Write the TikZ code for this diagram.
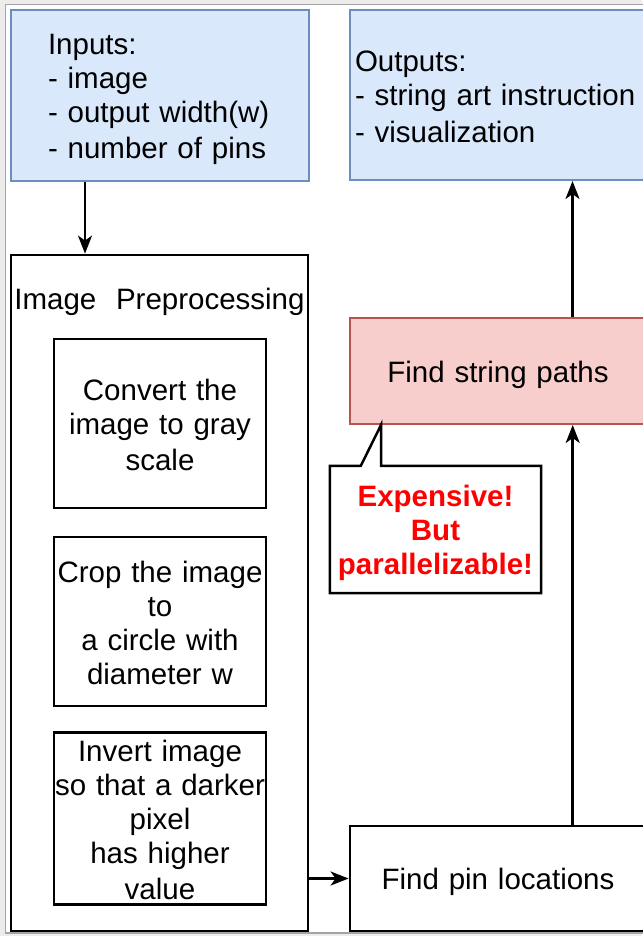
\documentclass[tikz,border=0pt]{standalone}
\usepackage{fontspec}
\setmainfont{Liberation Sans}
\usetikzlibrary{arrows.meta,calc}
\setlength{\parindent}{0pt}

\definecolor{iofill}{HTML}{DAE8FC}
\definecolor{ioline}{HTML}{6C8EBF}
\definecolor{hotfill}{HTML}{F8CECC}
\definecolor{hotline}{HTML}{B85450}
\definecolor{framebg}{HTML}{ECECEC}
\definecolor{frameline}{HTML}{A4A4A4}
\definecolor{alert}{HTML}{FF0000}

% line strut used on the first and last line of every label
\newcommand{\labelstrut}{\rule[-5pt]{0pt}{34pt}}

\begin{document}
\begin{tikzpicture}[x=1pt,y=-1pt,
  every node/.style={font=\fontsize{29.5}{34}\selectfont, inner sep=0pt},
  label text/.style={execute at begin node=\labelstrut, execute at end node=\labelstrut},
  iobox/.style={draw=ioline, fill=iofill, line width=2pt, label text},
  hotbox/.style={draw=hotline, fill=hotfill, line width=2pt, align=center, label text},
  plainbox/.style={draw=black, fill=white, line width=2.8pt, align=center, label text},
  groupbox/.style={draw=black, line width=2.8pt},
  notetext/.style={align=center, text=alert, label text,
    font=\fontsize{29.5}{34}\selectfont\bfseries},
  flow/.style={line width=2.5pt, -{Stealth[length=18pt,width=14pt,inset=5pt]}}
]
\useasboundingbox (0,0) rectangle (642,936);

% window frame
\fill[framebg] (0,0) rectangle (642,936);
\draw[frameline, fill=white, line width=1.5pt] (5.5,4.5) rectangle (700,933);

% inputs and outputs
\node[iobox, align=left, text width=224, minimum width=298, minimum height=171] (in) at (160,95.5)
  {Inputs:\\- image\\- output width(w)\\- number of pins};
\node[iobox, align=left, text width=286, minimum width=296, minimum height=170] (out) at (498,95)
  {Outputs:\\- string art instruction\\- visualization};

% preprocessing group
\node[groupbox, minimum width=297, minimum height=676] (pre) at (159.5,593) {};
\node[label text, align=center, text width=297] (ptitle) at (159.5,298) {Image\ \ Preprocessing};
\node[plainbox, text width=212, minimum width=212, minimum height=169] (gray) at (160,423.5)
  {Convert the\\image to gray\\scale};
\node[plainbox, text width=212, minimum width=212, minimum height=169] (crop) at (160,621.5)
  {Crop the image\\to\\a circle with\\diameter w};
\node[plainbox, text width=212, minimum width=212, minimum height=171] (inv) at (160,818.5)
  {Invert image\\so that a darker\\pixel\\has higher\\value};

% right column
\node[hotbox, text width=296, minimum width=296, minimum height=106] (sp) at (498,371)
  {Find string paths};
\node[plainbox, text width=296, minimum width=296, minimum height=105] (pin) at (498,878.5)
  {Find pin locations};

% callout
\node[notetext, text width=211, minimum width=211, minimum height=127] (note) at (435.5,529.5)
  {Expensive!\\But\\parallelizable!};
\coordinate (tip) at ($(sp.south west)+(32,0)$);
\draw[line width=2.5pt] (note.north west) -- ++(31,0) -- (tip)
  -- (tip |- note.north) -- (note.north east) -- (note.south east)
  -- (note.south west) -- cycle;

% connectors
\coordinate (inA) at ($(in.south west)!0.25!(in.south east)$);
\draw[flow] (inA) -- (inA |- pre.north);
\draw[flow] (pin.west -| pre.east) -- (pin.west);
\coordinate (pinA) at ($(pin.north west)!0.75!(pin.north east)$);
\draw[flow] (pinA) -- (pinA |- sp.south);
\coordinate (spA) at ($(sp.north west)!0.75!(sp.north east)$);
\draw[flow] (spA) -- (spA |- out.south);
\end{tikzpicture}
\end{document}
